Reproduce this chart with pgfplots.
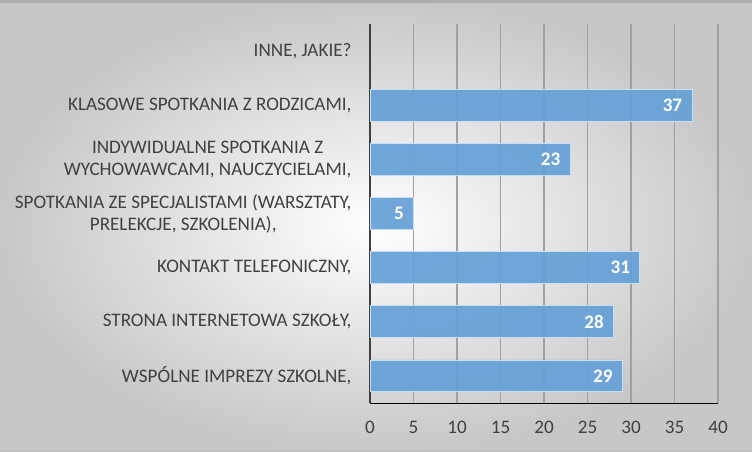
\documentclass[border=0pt]{standalone}
\usepackage{fontspec}
\setmainfont{Carlito}
\usepackage{pgfplots}
\pgfplotsset{compat=1.18}
\definecolor{txt}{HTML}{404040}
\definecolor{barfill}{HTML}{65A0D7}
\definecolor{baredge}{HTML}{C9DEF2}
\definecolor{gridc}{HTML}{A0A0A0}
\begin{document}
\begin{tikzpicture}[x=1bp,y=1bp]
\shade[inner color=white, outer color=black!22] (0,0) rectangle (752,452);
\fill[black!32] (0,449) rectangle (752,452);
\fill[black!25] (0,0) rectangle (752,2);
\begin{axis}[
  at={(370bp,49bp)}, anchor=south west,
  scale only axis, width=348bp, height=379bp,
  xbar, bar width=0.59,
  xmin=0, xmax=40, ymin=-0.5, ymax=6.5,
  xtick={0,5,...,40},
  ytick={0,...,6},
  yticklabels={{WSPÓLNE IMPREZY SZKOLNE,},{STRONA INTERNETOWA SZKOŁY,},{KONTAKT TELEFONICZNY,},{SPOTKANIA ZE SPECJALISTAMI (WARSZTATY,\\PRELEKCJE, SZKOLENIA),},{INDYWIDUALNE SPOTKANIA Z\\WYCHOWAWCAMI, NAUCZYCIELAMI,},{KLASOWE SPOTKANIA Z RODZICAMI,},{INNE, JAKIE?}},
  yticklabel style={align=center, font=\fontsize{19.2}{22}\selectfont, text=txt, xshift=-15bp},
  xticklabel style={font=\fontsize{19.2}{22}\selectfont, text=txt, yshift=-15bp},
  /pgf/number format/assume math mode=true,
  major tick length=0pt,
  xmajorgrids, grid style={gridc, line width=1.2bp},
  axis x line=none,
  axis y line*=left, y axis line style={txt, line width=2bp, -},
  hide x axis=false,
  nodes near coords,
  nodes near coords style={anchor=east, text=white, fill opacity=1, text opacity=1, font=\fontsize{19.2}{22}\selectfont\bfseries, xshift=-6bp},
  point meta=explicit symbolic,
]
\addplot[fill=barfill, fill opacity=0.92, draw=baredge, line width=0.8bp] coordinates {
(29,0) [29] (28,1) [28] (31,2) [31] (5,3) [5] (23,4) [23] (37,5) [37]
};
\end{axis}
\end{tikzpicture}
\end{document}
